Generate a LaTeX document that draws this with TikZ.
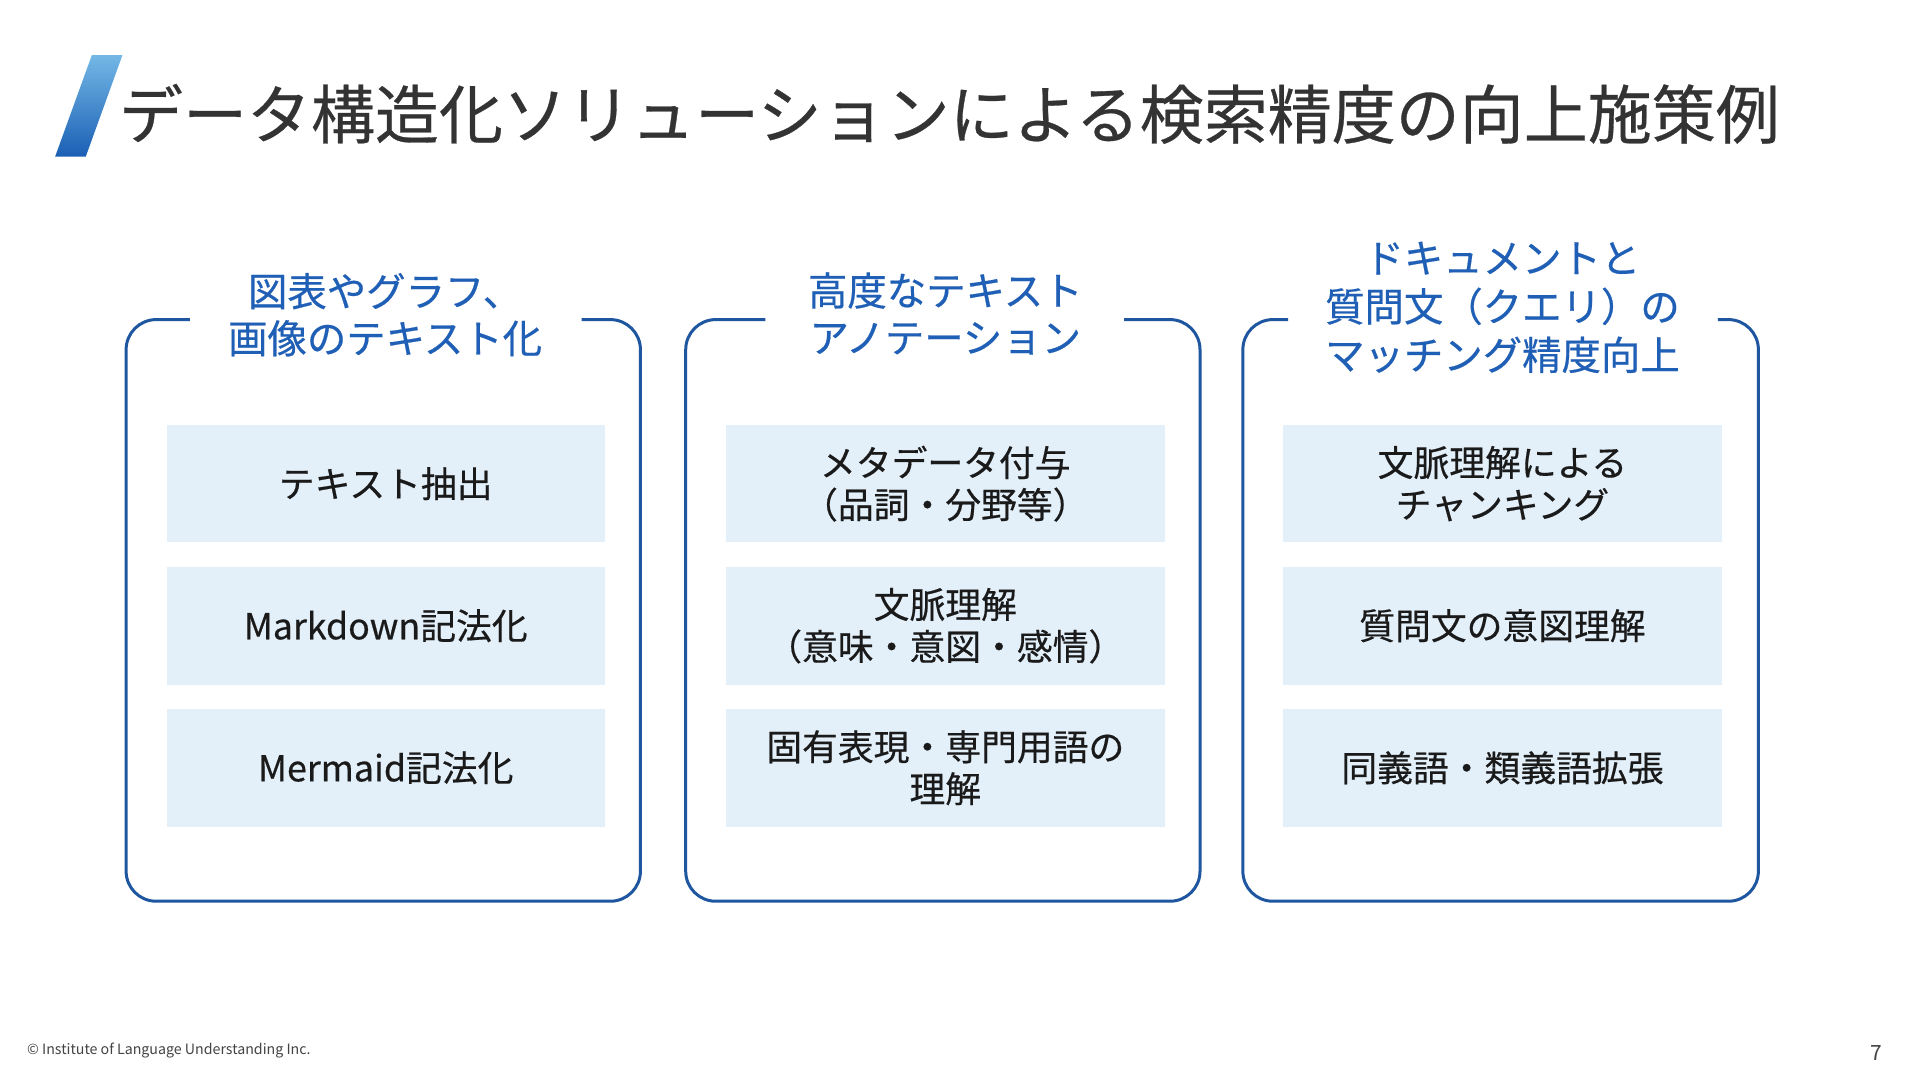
\documentclass[tikz,border=0pt]{standalone}
\usepackage{fontspec}
\setmainfont{Noto Sans CJK JP}
\newfontfamily\medfont[FakeBold=0.45]{Noto Sans CJK JP}
\definecolor{titlegray}{HTML}{333333}
\definecolor{panelblue}{HTML}{1E56A0}
\definecolor{headblue}{HTML}{1F5FB5}
\definecolor{boxfill}{HTML}{E3F0FA}
\definecolor{boxtext}{HTML}{1A1A1A}
\definecolor{logodark}{HTML}{1A5FB4}
\definecolor{logolight}{HTML}{74B8E6}
\definecolor{footgray}{HTML}{444444}
\begin{document}
\begin{tikzpicture}[x=1.2245pt,y=-1.2245pt,
  panelline/.style={draw=panelblue,line width=3pt,rounded corners=30pt},
  panelhead/.style={text=headblue,align=center,inner sep=0pt,font=\medfont\fontsize{39.4}{47}\selectfont},
  itembox/.style={fill=boxfill,text=boxtext,align=center,inner sep=0pt,
    minimum width=438.4pt,minimum height=117.6pt,font=\medfont\fontsize{35.8}{42}\selectfont}]
\useasboundingbox[fill=white] (0,0) rectangle (1568,882);
% logo slash
\shade[top color=logolight,bottom color=logodark] (45,128) -- (70,128) -- (100,45) -- (75,45) -- cycle;
% title
\node (title) [anchor=west,inner sep=0pt,text=titlegray,font=\medfont\fontsize{64}{70}\selectfont] at (97,93) {データ構造化ソリューションによる検索精度の向上施策例};
% panels
\draw[panelline] (155,261) -- (103,261) -- (103,736) -- (523,736) -- (523,261) -- (475,261);
\draw[panelline] (625,261) -- (560,261) -- (560,736) -- (980,736) -- (980,261) -- (918,261);
\draw[panelline] (1052,261) -- (1015,261) -- (1015,736) -- (1436,736) -- (1436,261) -- (1403,261);
% panel headings
\node (h1) [panelhead] at (314.5,257) {図表やグラフ、\\画像のテキスト化};
\node (h2) [panelhead] at (772,256) {高度なテキスト\\アノテーション};
\node (h3) [panelhead,font=\medfont\fontsize{39.4}{48.5}\selectfont] at (1227,251) {ドキュメントと\\質問文（クエリ）の\\マッチング精度向上};
% items
\node (b11) [itembox] at (315,395) {テキスト抽出};
\node (b12) [itembox] at (315,511) {Markdown記法化};
\node (b13) [itembox] at (315,627) {Mermaid記法化};
\node (b21) [itembox] at (772,395) {メタデータ付与\\（品詞・分野等）};
\node (b22) [itembox] at (772,511) {文脈理解\\（意味・意図・感情）};
\node (b23) [itembox] at (772,627) {固有表現・専門用語の\\理解};
\node (b31) [itembox] at (1227,395) {文脈理解による\\チャンキング};
\node (b32) [itembox] at (1227,511) {質問文の意図理解};
\node (b33) [itembox] at (1227,627) {同義語・類義語拡張};
% footer
\node (foot) [anchor=west,inner sep=0pt,text=footgray,font=\fontsize{14.2}{16}\selectfont] at (22,858) {© Institute of Language Understanding Inc.};
\node (page) [anchor=east,inner sep=0pt,text=footgray,font=\fontsize{21}{24}\selectfont] at (1537,860) {7};
\end{tikzpicture}
\end{document}
